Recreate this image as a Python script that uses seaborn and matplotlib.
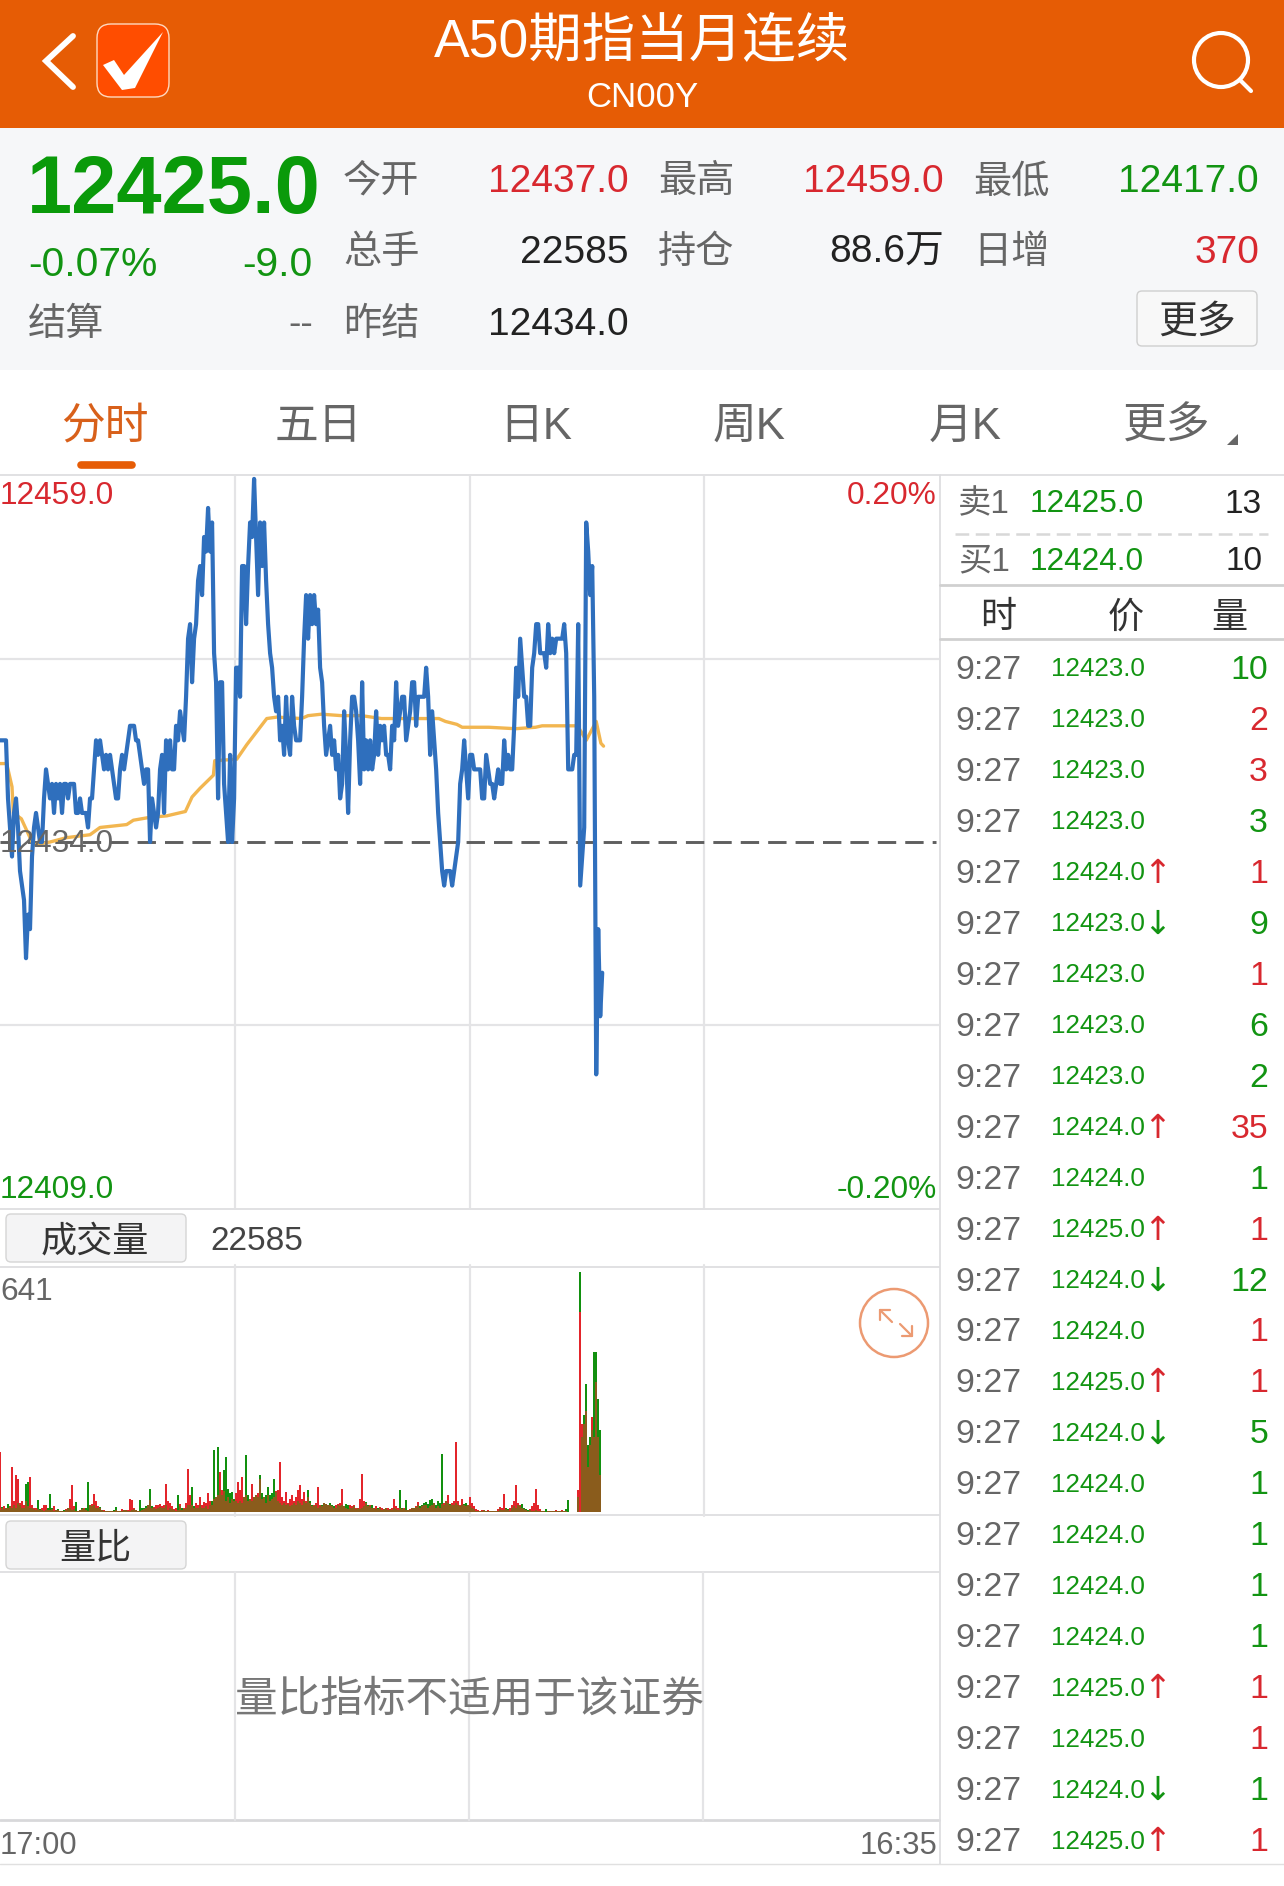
import matplotlib
matplotlib.use("Agg")
import matplotlib.pyplot as plt
from matplotlib.patches import Rectangle, FancyBboxPatch, Polygon, Circle
import pandas as pd
import seaborn as sns

W, H = 1284, 1886

# intraday price, one reading per 3 minutes, stored as price minus 12400
price_base = 12400
price_tail = [
    41,41,41,41,37,35,33,36,37,35,32,31,30,26,29,28,33,35,36,35,
    34,34,37,39,38,37,38,36,38,37,38,36,38,38,37,38,38,38,36,36,
    37,36,36,36,35,37,37,39,41,40,41,40,39,40,39,40,39,38,37,37,
    39,40,39,40,41,42,42,42,41,41,40,39,38,39,39,34,37,36,35,36,
    39,40,36,41,39,41,39,39,42,41,43,42,41,44,48,49,45,48,49,52,
    53,51,55,54,57,54,56,47,45,37,45,45,38,36,34,40,34,37,46,46,
    44,53,53,49,53,56,55,59,55,51,56,53,56,52,49,47,46,44,43,44,
    41,42,40,44,41,40,44,42,41,41,41,44,48,51,48,51,49,51,49,50,
    46,45,42,40,41,42,40,41,39,40,37,38,43,40,36,41,44,44,43,41,
    38,45,39,41,39,41,39,40,43,40,42,41,42,40,40,39,42,41,45,42,
    43,44,44,41,42,43,45,45,42,44,44,44,44,46,44,40,43,41,39,36,
    34,32,31,32,32,32,31,32,33,34,38,39,41,39,37,40,40,39,39,39,
    39,37,37,40,39,38,38,37,38,39,38,38,41,39,40,39,39,42,46,44,
    48,46,44,44,42,42,46,47,49,49,47,47,47,46,49,47,48,47,48,48,
    48,48,49,47,39,39,39,40,40,49,31,33,35,56,54,51,53,44,18,28,
    22,25,
]

# average price line
avg_minutes = [0,10,18,20,32,42,50,75,100,135,150,190,200,225,250,278,288,300,320,322,
               355,370,385,400,415,452,462,482,512,542,572,658,668,685,693,
               733,773,803,813,866,879,894,901,905]
avg_price = [12439.4,12439.4,12437.8,12436.0,12435.6,12434.6,12433.8,12434.0,12434.3,12434.5,
             12435.0,12435.2,12435.5,12435.7,12435.8,12436.1,12437.1,12437.7,12438.6,12439.6,
             12439.7,12440.7,12441.6,12442.5,12442.6,12442.5,12442.7,12442.8,12442.7,12442.7,
             12442.5,12442.5,12442.3,12442.1,12441.9,
             12441.9,12441.8,12441.9,12442.0,12442.0,12441.0,12442.3,12440.8,12440.6]

# volume per 3 minute bin
vol_red = [
    160,10,15,10,12,15,120,30,98,89,25,30,20,30,15,93,20,10,12,8,
    5,10,18,20,5,5,8,16,6,5,3,4,3,8,10,35,71,15,4,3,
    5,8,10,5,2,18,22,49,30,15,10,5,6,4,3,2,4,3,5,4,
    4,8,6,5,6,36,32,10,6,4,3,5,8,12,20,31,12,14,18,20,
    22,15,20,76,30,25,15,8,10,6,22,5,10,25,114,45,20,10,25,18,
    40,18,28,25,50,30,18,35,40,45,107,60,55,30,40,25,35,30,50,80,
    60,93,40,45,30,35,75,40,45,50,89,35,40,25,45,30,35,40,55,60,
    133,40,30,53,25,35,45,30,40,60,71,35,53,30,40,25,15,20,25,67,
    20,15,25,22,18,20,15,12,18,22,25,62,15,12,8,18,15,20,10,12,
    35,102,30,25,15,20,12,10,15,8,14,10,8,12,10,8,12,36,15,10,
    12,8,10,6,5,8,12,10,15,27,10,15,20,18,12,15,20,25,10,15,
    12,22,25,30,45,18,25,30,187,30,20,36,18,15,20,40,25,15,8,5,
    4,5,6,4,5,4,3,2,4,8,14,10,49,8,6,12,18,30,71,25,
    20,12,8,5,4,8,15,25,62,18,8,3,2,1,3,2,4,2,5,3,
    4,6,3,2,0,0,0,0,0,60,534,236,236,271,120,178,254,200,347,200,
    98,
]
vol_green = [
    5,13,8,10,22,15,10,18,12,25,20,12,10,76,80,10,12,8,6,31,
    8,5,4,6,10,49,12,4,6,8,3,4,5,6,10,12,5,8,27,3,
    5,10,8,12,80,20,15,18,12,10,13,5,3,2,4,3,2,5,13,3,
    4,2,5,6,4,3,5,8,6,4,31,10,12,15,20,62,15,10,8,12,
    14,10,12,18,6,10,8,5,4,45,15,12,8,10,18,20,67,15,10,12,
    18,10,12,15,8,20,30,165,40,174,60,45,111,147,62,50,53,35,30,25,
    30,25,40,151,45,35,30,40,45,40,98,50,40,45,67,45,50,89,53,30,
    25,20,25,18,22,15,18,25,20,30,25,18,30,25,58,30,20,15,18,12,
    15,20,25,22,18,25,20,15,12,18,15,20,15,22,18,12,10,15,8,10,
    8,12,15,27,20,15,18,12,8,10,12,6,8,10,5,8,6,10,8,5,
    58,10,8,31,5,6,10,12,14,18,15,20,25,28,22,31,36,25,20,30,
    25,156,20,30,25,22,20,18,25,20,15,18,22,25,18,15,10,8,4,3,
    3,4,5,3,4,3,2,3,2,4,8,6,5,10,8,4,12,15,10,18,
    15,22,12,9,6,5,3,2,6,4,3,2,4,7,3,4,2,3,2,2,
    2,3,4,8,31,0,0,0,0,40,641,200,260,343,180,200,220,427,427,303,
    218,
]

# tick list on the right
tick_prices = ["12423.0","12423.0","12423.0","12423.0","12424.0","12423.0","12423.0","12423.0",
               "12423.0","12424.0","12424.0","12425.0","12424.0","12424.0","12425.0","12424.0",
               "12424.0","12424.0","12424.0","12424.0","12425.0","12425.0","12424.0","12425.0"]
tick_arrows = ["","","","","↑","↓","","","","↑","","↑","↓","","↑","↓","","","","","↑","","↓","↑"]
tick_vols = [10,2,3,3,1,9,1,6,2,35,1,1,12,1,1,5,1,1,1,1,1,1,1,1]
tick_up = [0,1,1,0,1,0,1,0,0,1,0,1,0,1,1,0,0,0,0,0,1,1,0,1]
tab_names = ["分时","五日","日K","周K","月K","更多"]

ORANGE = "#e65c05"
RED = "#d8282f"
GREEN = "#129412"
GRID = "#e4e4e6"
GREY = "#666666"
X_END = 1408  # minutes across the panel

sns.set_theme(style="white")
plt.rcParams["font.family"] = ["Liberation Sans", "Noto Sans CJK SC", "DejaVu Sans"]

fig = plt.figure(figsize=(W / 100, H / 100), dpi=100, facecolor="white")


def px_axes(left, top, right, bottom, z):
    a = fig.add_axes([left / W, 1 - bottom / H, (right - left) / W, (bottom - top) / H], zorder=z)
    a.patch.set_alpha(0)
    return a


def T(x, y, s, size, color=GREY, ha="left", **kw):
    fg.text(x, y, s, fontsize=size, color=color, ha=ha, va="center_baseline", **kw)


bg = px_axes(0, 0, W, H, 0)
bg.set_xlim(0, W)
bg.set_ylim(H, 0)
bg.axis("off")
fg = px_axes(0, 0, W, H, 5)
fg.set_xlim(0, W)
fg.set_ylim(H, 0)
fg.axis("off")

# header and quote panel
bg.add_patch(Rectangle((0, 0), W, 128, fc=ORANGE, ec="none"))
bg.add_patch(Rectangle((0, 128), W, 242, fc="#f6f7f9", ec="none"))
bg.plot([73, 46, 73], [36, 61, 87], color="white", lw=4.2, solid_capstyle="round", solid_joinstyle="miter")
bg.add_patch(FancyBboxPatch((105, 32), 56, 57, boxstyle="round,pad=8,rounding_size=14",
                            fc="#ff4d00", ec="#ffd9c0", lw=1))
bg.add_patch(Polygon([(103, 65), (114, 60), (124, 75), (163, 32), (135, 88), (122, 90)], fc="white", ec="none"))
bg.add_patch(Circle((1221, 60), 27, fc="none", ec="white", lw=3))
bg.plot([1240, 1251], [80, 91], color="white", lw=3)
T(642, 38, "A50期指当月连续", 38.5, "white", ha="center")
T(642, 94, "CN00Y", 25, "white", ha="center")

T(27, 183, "12425.0", 58.5, "#0a9a0a", fontweight="bold")
T(28, 261, "-0.07%", 29.3, GREEN)
T(313, 261, "-9.0", 29.3, GREEN, ha="right")
T(28, 321, "结算", 27.5)
T(313, 321, "--", 27, ha="right")
for x, s in [(343, "今开"), (658, "最高"), (973, "最低")]:
    T(x, 178, s, 27.5)
T(629, 178, "12437.0", 28, RED, ha="right")
T(944, 178, "12459.0", 28, RED, ha="right")
T(1259, 178, "12417.0", 28, GREEN, ha="right")
for x, s in [(343, "总手"), (658, "持仓"), (973, "日增")]:
    T(x, 249, s, 27.5)
T(629, 249, "22585", 28, "#222222", ha="right")
T(944, 249, "88.6万", 28, "#222222", ha="right")
T(1259, 249, "370", 28, RED, ha="right")
T(343, 321, "昨结", 27.5)
T(629, 321, "12434.0", 28, "#222222", ha="right")
bg.add_patch(FancyBboxPatch((1140, 294), 114, 49, boxstyle="round,pad=3,rounding_size=5", fc="#f8f8f8", ec="#cfcfcf", lw=1))
T(1197, 319, "更多", 28, "#333333", ha="center")

# tabs
for x, s in zip([105, 318, 536, 749, 965, 1167], tab_names):
    T(x, 423, s, 31.5, "#d8601a" if s == "分时" else GREY, ha="center")
bg.plot([81, 132], [465, 465], color=ORANGE, lw=5.5, solid_capstyle="round")
bg.add_patch(Polygon([(1227, 445), (1238, 445), (1238, 434)], fc=GREY, ec="none"))

# chrome lines
for y in [475, 1209, 1267, 1515, 1572]:
    bg.plot([0, 939], [y, y], color="#dcdcde", lw=1.2)
bg.plot([0, 939], [1820, 1820], color="#d8d8da", lw=2)
bg.plot([940, 940], [475, 1864], color="#dcdcde", lw=1.2)
bg.plot([940, W], [475, 475], color="#dcdcde", lw=1.2)
bg.plot([0, W], [1864, 1864], color="#e0e0e0", lw=1)
for x in [235, 469, 703]:
    bg.plot([x, x], [1572, 1820], color=GRID, lw=1.6)

for y0, s in [(1214, "成交量"), (1521, "量比")]:
    bg.add_patch(FancyBboxPatch((9, y0 + 3), 174, 42, boxstyle="round,pad=3,rounding_size=5", fc="#f4f4f5", ec="#d5d5d5", lw=1))
    T(95, y0 + 24, s, 26, "#333333", ha="center")
T(210, 1238, "22585", 24, "#444444")
T(469, 1696, "量比指标不适用于该证券", 30.7, "#777777", ha="center")
T(0, 1843, "17:00", 22.2, GREY)
T(937, 1843, "16:35", 22.2, GREY, ha="right")

# price panel
ax = px_axes(0, 476, 939, 1208, 2)
prices = pd.DataFrame({"minute": [i * 3 for i in range(len(price_tail))],
                       "price": [price_base + v for v in price_tail]})
avg = pd.DataFrame({"minute": avg_minutes, "price": avg_price})
for y in [12421.4, 12446.6]:
    ax.axhline(y, color=GRID, lw=1.6, zorder=0)
for x in [X_END / 4, X_END / 2, X_END * 3 / 4]:
    ax.axvline(x, color=GRID, lw=1.6, zorder=0)
ax.axhline(12434, xmax=0.997, color="#5f5f5f", lw=2.1, ls=(0, (6.3, 3.1)), zorder=1)
sns.lineplot(data=avg, x="minute", y="price", ax=ax, color="#f2b650", lw=2.4, zorder=2, legend=False)
sns.lineplot(data=prices, x="minute", y="price", ax=ax, color="#2f6fbd", lw=3, zorder=3,
             estimator=None, sort=False, legend=False)
ax.set_xlim(0, X_END)
ax.set_ylim(12408.8, 12459.2)
ax.set_axis_off()
T(0, 493, "12459.0", 22.8, RED)
T(0, 841, "12434.0", 22.8, GREY)
T(0, 1187, "12409.0", 22.8, GREEN)
T(937, 493, "0.20%", 22.8, RED, ha="right")
T(937, 1187, "-0.20%", 22.8, GREEN, ha="right")

# volume panel
vax = px_axes(0, 1272, 939, 1512, 2)
for x in [X_END / 4, X_END / 2, X_END * 3 / 4]:
    vax.plot([x, x], [-10, 660], color=GRID, lw=1.6, zorder=0, clip_on=False)
bins = [i * 3 for i in range(len(vol_red))]
overlap = [min(r, g) for r, g in zip(vol_red, vol_green)]
overlap[290] = 0  # tallest bar stays plain red in the picture
for vals, col, z in [(vol_green, "#12900f", 2), (vol_red, "#e3252b", 3), (overlap, "#8a5c1c", 4)]:
    sns.barplot(x=bins, y=vals, ax=vax, native_scale=True, color=col, width=1, saturation=1,
                errorbar=None, linewidth=0, zorder=z)
vax.set_xlim(0, X_END)
vax.set_ylim(0, 641)
vax.set_axis_off()
T(0, 1289, "641", 22.8, GREY)
bg.add_patch(Circle((894, 1323), 34, fc="white", ec="#ec9a72", lw=1.8))
bg.plot([880, 892], [1310, 1322], color="#ec9a72", lw=1.6)
bg.plot([900, 912], [1324, 1336], color="#ec9a72", lw=1.6)
bg.plot([880, 880, 890], [1320, 1310, 1310], color="#ec9a72", lw=1.6)
bg.plot([902, 912, 912], [1336, 1336, 1326], color="#ec9a72", lw=1.6)

# order book
T(958, 501, "卖1", 24)
T(1030, 501, "12425.0", 22.8, GREEN)
T(1262, 501, "13", 24, "#222222", ha="right")
bg.plot([955, 1268], [534, 534], color="#d8d8d8", lw=1.8, ls=(0, (5.5, 2.6)))
T(958, 558, "买1", 24)
T(1030, 558, "12424.0", 22.8, GREEN)
T(1262, 558, "10", 24, "#222222", ha="right")
bg.plot([940, W], [585, 585], color="#d0d0d0", lw=2)
bg.plot([940, W], [639, 639], color="#d0d0d0", lw=2)
for x, s in zip([998, 1126, 1229], ["时", "价", "量"]):
    T(x, 614, s, 26, "#333333", ha="center")
for i, (p, arrow, v, up) in enumerate(zip(tick_prices, tick_arrows, tick_vols, tick_up)):
    y = 667 + i * 50.96
    T(955, y, "9:27", 24.4, GREY)
    T(1051, y, p, 18.7, GREEN)
    if arrow:
        T(1157, y - 1, arrow, 24, RED if arrow == "↑" else GREEN, ha="center", family="DejaVu Sans")
    T(1268, y, str(v), 24.4, RED if up else GREEN, ha="right")

fig.savefig("out.png", dpi=100, facecolor="white")
